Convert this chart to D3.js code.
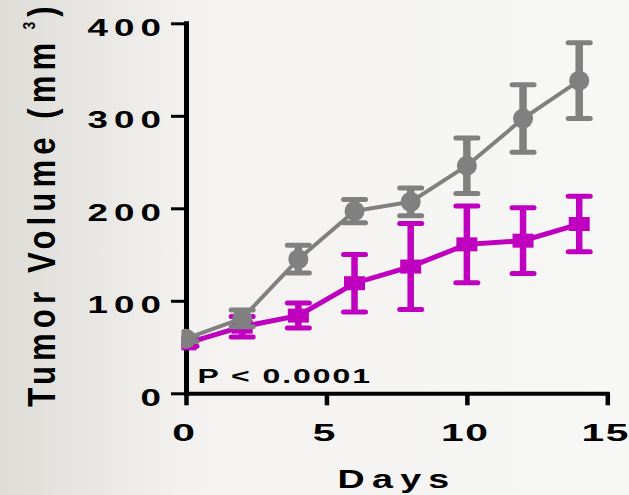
<!DOCTYPE html>
<html>
<head>
<meta charset="utf-8">
<script src="https://cdn.jsdelivr.net/npm/d3@7"></script>
<style>
  html, body { margin: 0; padding: 0; background: #f6f6f4; }
  svg { display: block; }
  text { font-family: "Liberation Sans", Arial, sans-serif; font-weight: bold; fill: #000; }
</style>
</head>
<body>
<script>
// Tumor growth over time: control vs treated (mean ± SEM)
const days = [0, 2, 4, 6, 8, 10, 12, 14];
const controlMean = [59, 81, 145, 197, 207, 246, 297, 338];
const controlErr  = [3, 9, 15, 12.5, 15, 30, 36.5, 41];
const treatedMean = [54, 72, 84, 119, 137, 161, 165, 183];
const treatedErr  = [3, 11, 13.5, 31, 46.5, 41.5, 35.5, 30];
const xTicks = [0, 5, 10, 15];
const yTicks = [0, 100, 200, 300, 400];
const pLabel = "P < 0.0001";

const W = 629, H = 495;
const svg = d3.select("body").append("svg").attr("width", W).attr("height", H);

// soft slide-style background
const defs = svg.append("defs");
const grad = defs.append("linearGradient").attr("id", "bg").attr("x1", 0).attr("x2", 1).attr("y1", 0).attr("y2", 0);
grad.append("stop").attr("offset", "0%").attr("stop-color", "#dedcd7");
grad.append("stop").attr("offset", "30%").attr("stop-color", "#f3f2f0");
grad.append("stop").attr("offset", "100%").attr("stop-color", "#f7f7f6");
svg.append("rect").attr("width", W).attr("height", H).attr("fill", "url(#bg)");

defs.append("clipPath").attr("id", "plotclip")
  .append("rect").attr("x", 181.5).attr("y", 0).attr("width", W).attr("height", H);

const x = d3.scaleLinear().domain([0, 15]).range([186, 607.3]);
const y = d3.scaleLinear().domain([0, 400]).range([393.3, 23.3]);

// axes
const yAxis = svg.append("g").attr("transform", `translate(${x(0)},0)`)
  .call(d3.axisLeft(y).tickValues(yTicks).tickSize(15).tickSizeOuter(0).tickFormat(d3.format("d")));
yAxis.select(".domain").attr("stroke", "#000").attr("stroke-width", 5).attr("stroke-linecap", "square");
yAxis.selectAll(".tick line").attr("stroke", "#000").attr("stroke-width", 3);
yAxis.selectAll(".tick text")
  .attr("x", null).attr("dy", null).attr("text-anchor", "end")
  .style("font-size", "23px").style("letter-spacing", "3.8px")
  .attr("transform", "translate(-19,11.7) scale(1.6,1)");

const xAxis = svg.append("g").attr("transform", `translate(0,${y(0)})`)
  .call(d3.axisBottom(x).tickValues(xTicks).tickSize(12).tickSizeOuter(0).tickFormat(d3.format("d")));
xAxis.select(".domain").attr("stroke", "#000").attr("stroke-width", 4).attr("stroke-linecap", "square");
xAxis.selectAll(".tick line").attr("stroke", "#000").attr("stroke-width", 4.5);
xAxis.selectAll(".tick text")
  .attr("y", null).attr("dy", null).attr("text-anchor", "middle")
  .style("font-size", "24px").style("letter-spacing", "1px")
  .attr("transform", "translate(-2,47.7) scale(1.7,1)");

// series
const series = [
  { mean: treatedMean, err: treatedErr, color: "#bf00bf", shape: "square", lw: 5, stem: 6.5 },
  { mean: controlMean, err: controlErr, color: "#808080", shape: "circle", lw: 4, stem: 7.5 }
];

const plot = svg.append("g").attr("clip-path", "url(#plotclip)");

series.forEach(s => {
  const pts = days.map((d, i) => ({ d, m: s.mean[i], e: s.err[i] }));
  const g = plot.append("g");
  g.append("path").datum(pts)
    .attr("fill", "none").attr("stroke", s.color).attr("stroke-width", s.lw)
    .attr("d", d3.line().x(p => x(p.d)).y(p => y(p.m)));

  const eb = g.selectAll(".eb").data(pts).enter().append("g");
  eb.append("line")
    .attr("x1", p => x(p.d)).attr("x2", p => x(p.d))
    .attr("y1", p => y(p.m + p.e)).attr("y2", p => y(p.m - p.e))
    .attr("stroke", s.color).attr("stroke-width", s.stem);
  [1, -1].forEach(sign => {
    eb.append("line")
      .attr("x1", p => x(p.d) - 11).attr("x2", p => x(p.d) + 11)
      .attr("y1", p => y(p.m + sign * p.e)).attr("y2", p => y(p.m + sign * p.e))
      .attr("stroke", s.color).attr("stroke-width", 5).attr("stroke-linecap", "round");
  });

  if (s.shape === "circle") {
    g.selectAll(".mk").data(pts).enter().append("circle")
      .attr("cx", p => x(p.d)).attr("cy", p => y(p.m)).attr("r", 10)
      .attr("fill", s.color);
  } else {
    g.selectAll(".mk").data(pts).enter().append("rect")
      .attr("x", p => x(p.d) - 10.5).attr("y", p => y(p.m) - 7)
      .attr("width", 21).attr("height", 14)
      .attr("fill", s.color);
  }
});

// p-value annotation
svg.append("text")
  .attr("transform", "translate(197.6,382.5) scale(1.6,1)")
  .style("font-size", "20px").style("letter-spacing", "1.2px")
  .text(pLabel);

// axis titles
svg.append("text")
  .attr("text-anchor", "middle")
  .attr("transform", "translate(397,488) scale(1.45,1)")
  .style("font-size", "26px").style("letter-spacing", "5px")
  .text("Days");

const yt = svg.append("text")
  .attr("text-anchor", "middle")
  .attr("transform", "translate(55,204) rotate(-90) scale(0.82,1)")
  .style("font-size", "38px").style("letter-spacing", "6.2px");
yt.append("tspan").text("Tumor Volume (mm");
yt.append("tspan").attr("dx", 10).attr("dy", -20).style("font-size", "17px").text("3");
yt.append("tspan").attr("dy", 20).style("font-size", "38px").text(")");
</script>
</body>
</html>
